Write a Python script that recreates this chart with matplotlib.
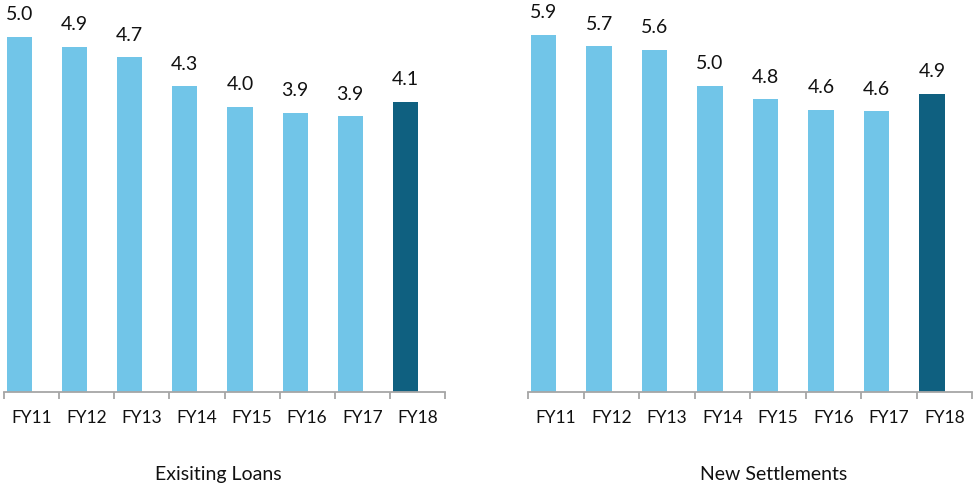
import matplotlib.pyplot as plt

# Data
years = ['FY11', 'FY12', 'FY13', 'FY14', 'FY15', 'FY16', 'FY17', 'FY18']
existing_loans = [5.01, 4.87, 4.72, 4.31, 4.02, 3.94, 3.89, 4.09]
new_settlements = [5.87, 5.68, 5.62, 5.03, 4.81, 4.64, 4.61, 4.90]
titles = ['Exisiting Loans', 'New Settlements']

light = '#71C5E8'
dark = '#0F6080'
axis_grey = '#A6A6A6'

plt.rcParams['font.family'] = ['Lato', 'DejaVu Sans']

fig = plt.figure(figsize=(9.73, 4.86), dpi=100)

panels = [
    # [left, width, values, ymax, title x]
    [4 / 973, 441 / 973, existing_loans, 5.53, 218 / 973],
    [528 / 973, 444 / 973, new_settlements, 6.44, 774 / 973],
]

for (left, width, values, ymax, tx), title in zip(panels, titles):
    ax = fig.add_axes([left, 94 / 486, width, 392 / 486])
    x = list(range(len(years)))
    colors = [light] * (len(years) - 1) + [dark]
    # bars sit in the left half of each slot (second series is empty)
    bar_x = [i - 0.219 for i in x]
    ax.bar(bar_x, values, width=0.455, color=colors)
    for bx, v in zip(bar_x, values):
        ax.annotate(f'{v:.1f}', (bx, v), xytext=(0, 12), textcoords='offset points',
                    ha='center', va='baseline', fontsize=14, color='#111111')

    ax.set_xlim(-0.5, len(years) - 0.5)
    ax.set_ylim(0, ymax)
    for s in ['top', 'right', 'left']:
        ax.spines[s].set_visible(False)
    ax.spines['bottom'].set_color(axis_grey)
    ax.spines['bottom'].set_linewidth(1.3)
    ax.set_yticks([])
    ax.set_xticks(x)
    ax.set_xticklabels(years, fontsize=12.5, color='#111111')
    ax.tick_params(axis='x', which='major', length=0, pad=13)
    ax.set_xticks([i - 0.5 for i in range(len(years) + 1)], minor=True)
    ax.tick_params(axis='x', which='minor', length=5, width=1.3, color=axis_grey)

    fig.text(tx, 6 / 486, title, ha='center', va='baseline', fontsize=14, color='#111111')

plt.savefig('out.png', dpi=100)
